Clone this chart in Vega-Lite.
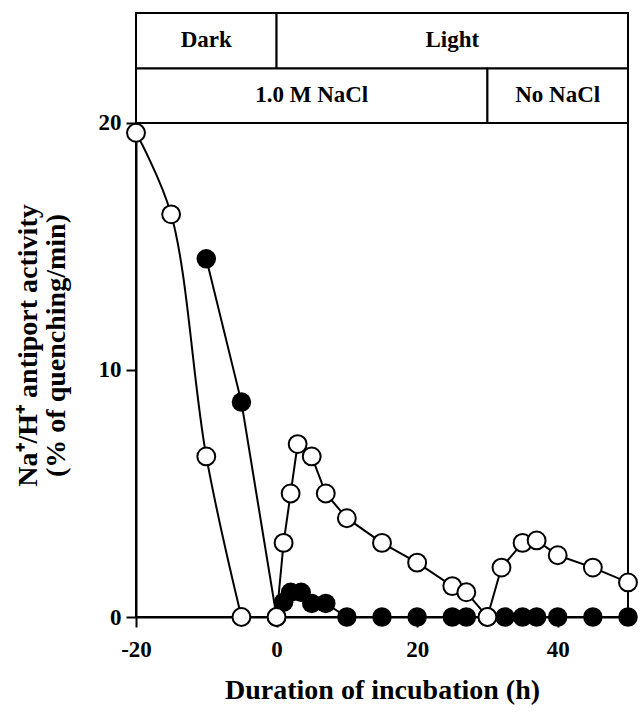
{
  "$schema": "https://vega.github.io/schema/vega-lite/v6.json",
  "width": 492,
  "height": 604,
  "autosize": {"type": "none"},
  "padding": {"left": 136, "top": 13, "right": 12, "bottom": 97},
  "background": "white",
  "config": {
    "view": {"stroke": "black", "strokeWidth": 2},
    "font": "Liberation Serif",
    "axis": {
      "domainColor": "black",
      "domainWidth": 2,
      "tickColor": "black",
      "tickWidth": 2,
      "tickSize": 10,
      "grid": false,
      "labelFont": "Liberation Serif",
      "labelFontWeight": "bold",
      "labelFontSize": 23,
      "labelColor": "black",
      "labelFlush": false,
      "labelExpr": "toString(datum.value)",
      "titleFont": "Liberation Serif",
      "titleFontWeight": "bold",
      "titleFontSize": 28,
      "titleColor": "black"
    },
    "axisX": {"labelPadding": 11, "titlePadding": 15},
    "axisY": {"labelPadding": 5, "titlePadding": 28, "titleY": 332, "titleLineHeight": 28}
  },
  "datasets": {
    "activity": [
      {"t": -20, "v": 19.6, "series": "open", "seg": "A"},
      {"t": -15, "v": 16.3, "series": "open", "seg": "A"},
      {"t": -10, "v": 6.5, "series": "open", "seg": "A"},
      {"t": -5, "v": 0, "series": "open", "seg": "A"},
      {"t": 0, "v": 0, "series": "open", "seg": "B"},
      {"t": 1, "v": 3.0, "series": "open", "seg": "B"},
      {"t": 2, "v": 5.0, "series": "open", "seg": "B"},
      {"t": 3, "v": 7.0, "series": "open", "seg": "B"},
      {"t": 5, "v": 6.5, "series": "open", "seg": "B"},
      {"t": 7, "v": 5.0, "series": "open", "seg": "B"},
      {"t": 10, "v": 4.0, "series": "open", "seg": "B"},
      {"t": 15, "v": 3.0, "series": "open", "seg": "B"},
      {"t": 20, "v": 2.2, "series": "open", "seg": "B"},
      {"t": 25, "v": 1.25, "series": "open", "seg": "B"},
      {"t": 27, "v": 1.0, "series": "open", "seg": "B"},
      {"t": 30, "v": 0, "series": "open", "seg": "B"},
      {"t": 32, "v": 2.0, "series": "open", "seg": "B"},
      {"t": 35, "v": 3.0, "series": "open", "seg": "B"},
      {"t": 37, "v": 3.1, "series": "open", "seg": "B"},
      {"t": 40, "v": 2.5, "series": "open", "seg": "B"},
      {"t": 45, "v": 2.0, "series": "open", "seg": "B"},
      {"t": 50, "v": 1.4, "series": "open", "seg": "B"},
      {"t": -10, "v": 14.5, "series": "filled", "seg": "C"},
      {"t": -5, "v": 8.7, "series": "filled", "seg": "C"},
      {"t": 0, "v": 0, "series": "filled", "seg": "C"},
      {"t": 1, "v": 0.6, "series": "filled", "seg": "C"},
      {"t": 2, "v": 1.0, "series": "filled", "seg": "C"},
      {"t": 3.5, "v": 1.0, "series": "filled", "seg": "C"},
      {"t": 5, "v": 0.55, "series": "filled", "seg": "C"},
      {"t": 7, "v": 0.55, "series": "filled", "seg": "C"},
      {"t": 10, "v": 0, "series": "filled", "seg": "C"},
      {"t": 15, "v": 0, "series": "filled", "seg": "C"},
      {"t": 20, "v": 0, "series": "filled", "seg": "C"},
      {"t": 25, "v": 0, "series": "filled", "seg": "C"},
      {"t": 27, "v": 0, "series": "filled", "seg": "C"},
      {"t": 30, "v": 0, "series": "filled", "seg": "C"},
      {"t": 32.5, "v": 0, "series": "filled", "seg": "C"},
      {"t": 35, "v": 0, "series": "filled", "seg": "C"},
      {"t": 37, "v": 0, "series": "filled", "seg": "C"},
      {"t": 40, "v": 0, "series": "filled", "seg": "C"},
      {"t": 45, "v": 0, "series": "filled", "seg": "C"},
      {"t": 50, "v": 0, "series": "filled", "seg": "C"}
    ],
    "header": [
      {"label": "Dark", "start": -20, "end": 0, "row": 1},
      {"label": "Light", "start": 0, "end": 50, "row": 1},
      {"label": "1.0 M NaCl", "start": -20, "end": 30, "row": 2},
      {"label": "No NaCl", "start": 30, "end": 50, "row": 2}
    ]
  },
  "layer": [
    {
      "data": {"name": "header"},
      "transform": [
        {"calculate": "datum.row == 1 ? 22.2 : 20", "as": "lo"},
        {"calculate": "datum.row == 1 ? 24.45 : 22.2", "as": "hi"},
        {"calculate": "(datum.start + datum.end) / 2", "as": "mid"},
        {"calculate": "(datum.lo + datum.hi) / 2", "as": "ymid"}
      ],
      "layer": [
        {
          "mark": {"type": "rect", "fill": "white", "stroke": "black", "strokeWidth": 2},
          "encoding": {
            "x": {"field": "start", "type": "quantitative", "scale": {"domain": [-20, 50], "nice": false, "zero": false}, "axis": {"values": [-20, 0, 20, 40], "title": "Duration of incubation (h)"}},
            "x2": {"field": "end"},
            "y": {"field": "lo", "type": "quantitative", "scale": {"domain": [0, 24.45], "nice": false}, "axis": {"values": [0, 10, 20], "title": ["Na⁺/H⁺ antiport activity", "(% of quenching/min)"]}},
            "y2": {"field": "hi"}
          }
        },
        {
          "mark": {"type": "text", "font": "Liberation Serif", "fontWeight": "bold", "fontSize": 23, "baseline": "middle", "align": "center", "color": "black", "dy": -1},
          "encoding": {
            "x": {"field": "mid", "type": "quantitative", "scale": {"domain": [-20, 50], "nice": false, "zero": false}, "axis": {"values": [-20, 0, 20, 40], "title": "Duration of incubation (h)"}},
            "y": {"field": "ymid", "type": "quantitative", "scale": {"domain": [0, 24.45], "nice": false}, "axis": {"values": [0, 10, 20], "title": ["Na⁺/H⁺ antiport activity", "(% of quenching/min)"]}},
            "text": {"field": "label"}
          }
        }
      ]
    },
    {
      "data": {"name": "activity"},
      "encoding": {
        "x": {"field": "t", "type": "quantitative", "scale": {"domain": [-20, 50], "nice": false, "zero": false}, "axis": {"values": [-20, 0, 20, 40], "title": "Duration of incubation (h)"}},
        "y": {"field": "v", "type": "quantitative", "scale": {"domain": [0, 24.45], "nice": false}, "axis": {"values": [0, 10, 20], "title": ["Na⁺/H⁺ antiport activity", "(% of quenching/min)"]}}
      },
      "layer": [
        {
          "transform": [{"filter": "datum.seg == 'A'"}],
          "mark": {"type": "line", "interpolate": "catmull-rom", "color": "black", "strokeWidth": 2}
        },
        {
          "transform": [{"filter": "datum.seg != 'A'"}],
          "mark": {"type": "line", "color": "black", "strokeWidth": 2},
          "encoding": {"detail": {"field": "seg"}}
        },
        {
          "transform": [{"filter": "datum.series == 'filled'"}],
          "mark": {"type": "point", "shape": "circle", "filled": true, "color": "black", "size": 380, "opacity": 1}
        },
        {
          "transform": [{"filter": "datum.series == 'open'"}],
          "mark": {"type": "point", "shape": "circle", "fill": "white", "stroke": "black", "strokeWidth": 2, "size": 320, "opacity": 1, "fillOpacity": 1}
        }
      ]
    }
  ]
}
